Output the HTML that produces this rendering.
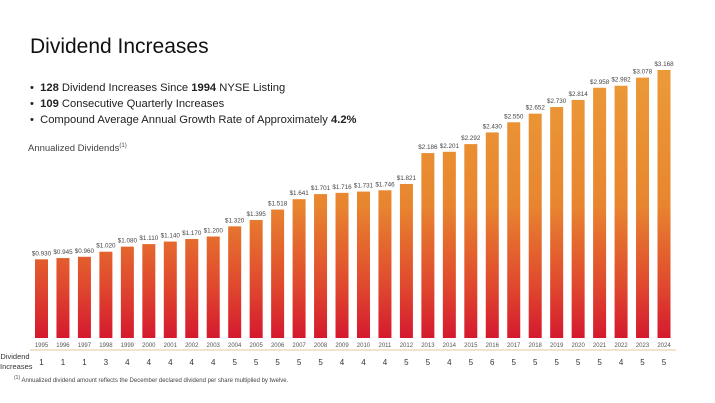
<!DOCTYPE html>
<html><head><meta charset="utf-8"><style>
body{margin:0;width:715px;height:403px;background:#fff;font-family:"Liberation Sans",sans-serif;position:relative;overflow:hidden;color:#222}
.t{position:absolute;white-space:nowrap}
</style></head><body>
<div class="t" style="left:30px;top:35px;font-size:21px;color:#111">Dividend Increases</div>
<div class="t" style="left:30px;top:82px;font-size:11.2px">•&nbsp; <b>128</b> Dividend Increases Since <b>1994</b> NYSE Listing</div>
<div class="t" style="left:30px;top:98px;font-size:11.2px">•&nbsp; <b>109</b> Consecutive Quarterly Increases</div>
<div class="t" style="left:30px;top:114px;font-size:11.2px">•&nbsp; Compound Average Annual Growth Rate of Approximately <b>4.2%</b></div>
<div class="t" style="left:28px;top:143px;font-size:9.5px;color:#444">Annualized Dividends<sup style="font-size:6px">(1)</sup></div>
<div class="t" style="left:0;top:352px;width:30px;text-align:center;font-size:7.5px;line-height:10px;color:#333">Dividend<br>Increases</div>
<div class="t" style="left:14px;top:375px;font-size:6px;color:#444"><sup>(1)</sup> Annualized dividend amount reflects the December declared dividend per share multiplied by twelve.</div>
<svg id="c" width="715" height="403" style="position:absolute;left:0;top:0">
<defs>
<linearGradient id="gu" gradientUnits="userSpaceOnUse" x1="0" y1="70" x2="0" y2="338"><stop offset="0" stop-color="#ec9a38"/><stop offset="0.5" stop-color="#e8862f"/><stop offset="0.8" stop-color="#e04a2e"/><stop offset="1" stop-color="#d5192f"/></linearGradient></defs>
<line x1="30" y1="350" x2="676" y2="350" stroke="#e8c49a" stroke-width="1"/>
</svg>
<script>
const years=[1995,1996,1997,1998,1999,2000,2001,2002,2003,2004,2005,2006,2007,2008,2009,2010,2011,2012,2013,2014,2015,2016,2017,2018,2019,2020,2021,2022,2023,2024];
const dividends=[0.930,0.945,0.960,1.020,1.080,1.110,1.140,1.170,1.200,1.320,1.395,1.518,1.641,1.701,1.716,1.731,1.746,1.821,2.186,2.201,2.292,2.430,2.550,2.652,2.730,2.814,2.958,2.982,3.078,3.168];
const increases=[1,1,1,3,4,4,4,4,4,5,5,5,5,5,4,4,4,5,5,4,5,6,5,5,5,5,5,4,5,5];
const svg=document.getElementById('c'),NS='http://www.w3.org/2000/svg';
const x0=41.5,step=(664-41.5)/29,base=338,scale=(338-70)/3.168,bw=13;
const xp=i=>x0+i*step, yp=v=>base-v*scale;
function mk(tag,attrs){const e=document.createElementNS(NS,tag);for(const k in attrs)e.setAttribute(k,attrs[k]);svg.appendChild(e);return e;}
years.forEach((yr,i)=>{
  const v=dividends[i],cx=xp(i);
  const r=mk('rect',{x:cx-bw/2,y:yp(v),width:bw,height:base-yp(v),fill:'url(#gu)'});
  
  
  const l=mk('text',{x:cx,y:yp(v)-4,'text-anchor':'middle','font-size':'6.3','fill':'#444','font-family':'Liberation Sans, sans-serif'});
  l.textContent='$'+v.toFixed(3);
  
  
  const t=mk('text',{x:cx,y:347,'text-anchor':'middle','font-size':'6','fill':'#555','font-family':'Liberation Sans, sans-serif'});
  t.textContent=yr;
  
  
  const n=mk('text',{x:cx,y:365,'text-anchor':'middle','font-size':'8','fill':'#333','font-family':'Liberation Sans, sans-serif'});
  n.textContent=increases[i];
  
  
});
</script>
</body></html>
